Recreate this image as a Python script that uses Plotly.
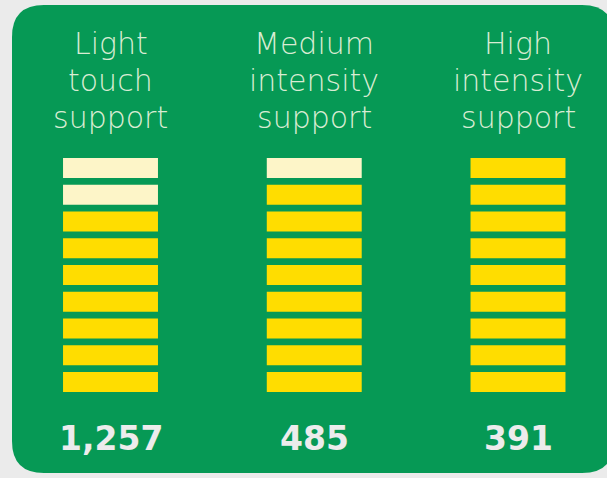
import plotly.graph_objects as go

# ---- data ----
categories = ["Light<br>touch<br>support", "Medium<br>intensity<br>support", "High<br>intensity<br>support"]
values = [1257, 485, 391]
value_labels = ["1,257", "485", "391"]
total_segments = [9, 9, 9]
pale_segments = [2, 1, 0]

# ---- style ----
W, H = 607, 478
GREEN = "#069955"
YELLOW = "#ffdd00"
PALE = "#fdf5c8"
BG = "#ebebeb"
TITLE_COL = "#d9ecd3"
NUM_COL = "#ececec"

xs = list(range(len(categories)))
fig = go.Figure()
nmax = max(total_segments)
for i in range(nmax):
    cols = []
    for c in range(len(categories)):
        cols.append(PALE if i >= total_segments[c] - pale_segments[c] else YELLOW)
    fig.add_trace(go.Bar(
        x=xs, y=[0.75] * len(xs), base=[i] * len(xs),
        marker=dict(color=cols, line=dict(width=0)),
        width=0.466, hoverinfo="skip", showlegend=False,
    ))

def px2paper(px, py):
    return px / W, 1 - py / H

def rounded_rect(x0, y0, x1, y1, r):
    def P(x, y):
        a, b = px2paper(x, y)
        return f"{a:.5f},{b:.5f}"
    return (f"M {P(x0 + r, y0)} L {P(x1 - r, y0)} Q {P(x1, y0)} {P(x1, y0 + r)} "
            f"L {P(x1, y1 - r)} Q {P(x1, y1)} {P(x1 - r, y1)} "
            f"L {P(x0 + r, y1)} Q {P(x0, y1)} {P(x0, y1 - r)} "
            f"L {P(x0, y0 + r)} Q {P(x0, y0)} {P(x0 + r, y0)} Z")

fig.add_shape(type="path", xref="paper", yref="paper",
              path=rounded_rect(12, 5, 614, 473, 32),
              fillcolor=GREEN, line=dict(width=0), layer="below")

line_centers = [43.5, 80.5, 117.5]
for c, cat in enumerate(categories):
    for k, line in enumerate(cat.split("<br>")):
        fig.add_annotation(x=xs[c], xref="x", y=1 - line_centers[k] / H, yref="paper",
                           text=line, showarrow=False, yanchor="middle",
                           font=dict(family="DejaVu Sans", size=30, color=TITLE_COL, weight=200))
    fig.add_annotation(x=xs[c], xref="x", y=1 - 438 / H, yref="paper",
                       text=value_labels[c], showarrow=False, yanchor="middle",
                       font=dict(family="DejaVu Sans", size=33, color=NUM_COL, weight="bold"))

unit_x = (518 - 110.5) / 2
unit_y = (392 - 158) / 8.75
fig.update_layout(
    width=W, height=H, margin=dict(l=0, r=0, t=0, b=0),
    paper_bgcolor=BG, plot_bgcolor="rgba(0,0,0,0)",
    barmode="overlay",
    xaxis=dict(range=[-110.5 / unit_x, (W - 110.5) / unit_x], visible=False, fixedrange=True),
    yaxis=dict(range=[-(H - 392) / unit_y, 392 / unit_y], visible=False, fixedrange=True),
)

fig.write_html("out.html", config={"displayModeBar": False},
               post_script="document.body.style.margin='0';document.body.style.overflow='hidden';")
